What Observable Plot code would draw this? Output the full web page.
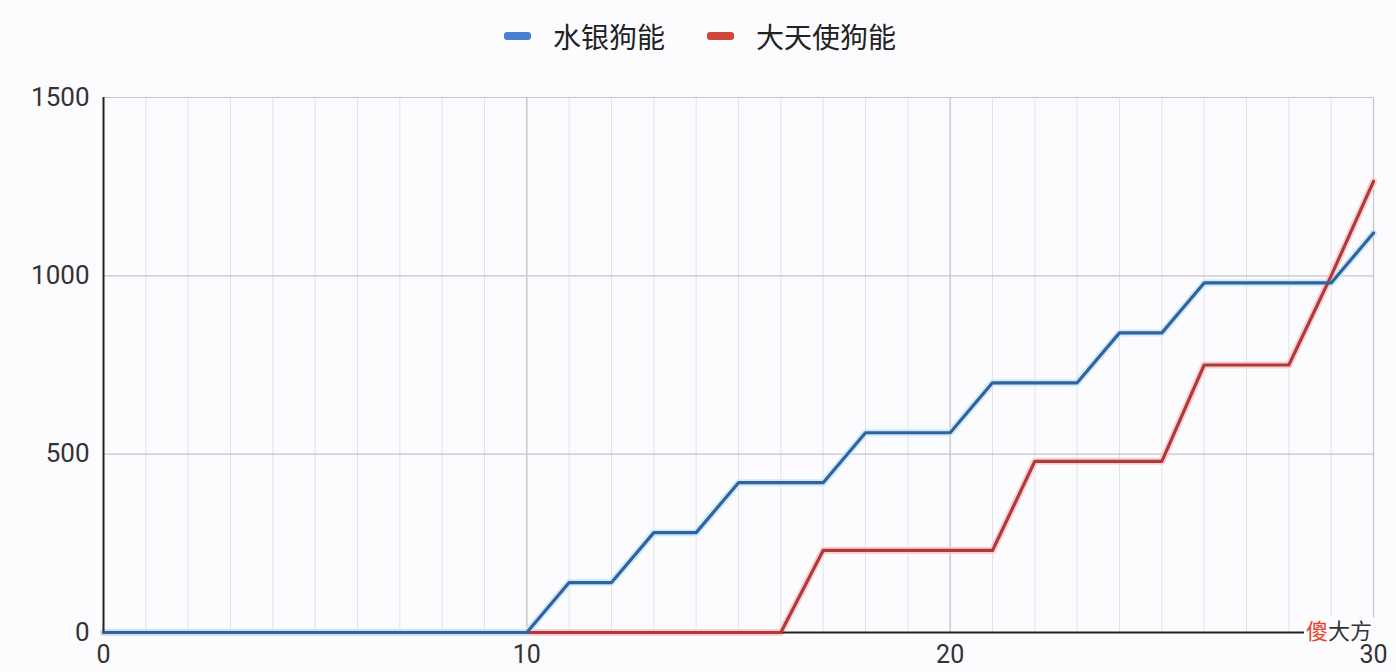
<!DOCTYPE html>
<html>
<head>
<meta charset="utf-8">
<script src="https://cdn.jsdelivr.net/npm/d3@7"></script>
<script src="https://cdn.jsdelivr.net/npm/@observablehq/plot@0.6"></script>
<style>
  html, body { margin: 0; padding: 0; background: #fcfcfe; width: 1396px; height: 672px; overflow: hidden; }
  #wrap { position: relative; width: 1396px; height: 672px; }
  #legend { height: 76px; display: flex; justify-content: center; align-items: center; font-family: "Noto Sans CJK SC", sans-serif; font-size: 28px; color: #222; padding-left: 4px; padding-bottom: 4px; box-sizing: border-box; }
  .item { display: flex; align-items: center; margin: 0 21px; }
  .sw { width: 27px; height: 8px; border-radius: 3px; margin-right: 22px; }
  #wm { position: absolute; left: 1304px; top: 617px; font-family: "Noto Sans CJK SC", sans-serif; font-size: 22px; color: #333; background: #fcfcfe; line-height: 24px; height: 24px; padding: 0 2px; }
  #wm .r { color: #e2462f; }
</style>
</head>
<body>
<div id="wrap">
  <div id="legend"></div>
  <div id="chart"></div>
  <div id="wm"><span class="r">傻</span>大方</div>
</div>
<script>
const seriesNames = ["水银狗能", "大天使狗能"];
const seriesColors = ["#33639a", "#b03a3a"];
const legendColors = ["#4a80d4", "#d2453a"];
const glowColors = ["#bfe6fb", "#f7c4c8"];
const days = d3.range(0, 31);
const mercury = [0,0,0,0,0,0,0,0,0,0,0,140,140,280,280,420,420,420,560,560,560,700,700,700,840,840,980,980,980,980,1120];
const archangel = [0,0,0,0,0,0,0,0,0,0,0,0,0,0,0,0,0,230,230,230,230,230,480,480,480,480,750,750,750,1000,1265];
const xTicks = [0, 10, 20, 30];
const yTicks = [0, 500, 1000, 1500];
const minorX = d3.range(0, 31);

const data = [];
days.forEach((d, i) => {
  data.push({day: d, value: mercury[i], s: seriesNames[0]});
  data.push({day: d, value: archangel[i], s: seriesNames[1]});
});

const legend = document.getElementById("legend");
seriesNames.forEach((n, i) => {
  const it = document.createElement("div");
  it.className = "item";
  it.innerHTML = `<div class="sw" style="background:${legendColors[i]}"></div><span>${n}</span>`;
  legend.appendChild(it);
});

const fmt = d => String(d);

const chart = Plot.plot({
  width: 1396,
  height: 596,
  marginTop: 21,
  marginBottom: 40,
  marginLeft: 103,
  marginRight: 23,
  style: { background: "transparent", fontFamily: "Roboto, sans-serif", fontSize: "26px", color: "#333" },
  x: { domain: [0, 30], ticks: xTicks, tickSize: 0, tickFormat: fmt, label: null },
  y: { domain: [0, 1500], ticks: yTicks, tickSize: 0, tickFormat: fmt, label: null },
  color: { domain: seriesNames, range: seriesColors },
  marks: [
    Plot.ruleX(minorX, { stroke: "#e2e2ea", strokeWidth: 1 }),
    Plot.ruleX(xTicks.slice(1), { stroke: "#c4c4ca", strokeWidth: 1.2 }),
    Plot.ruleY(yTicks.slice(1), { stroke: "#c4c4ca", strokeWidth: 1.2 }),
    Plot.axisX({ ticks: xTicks, tickSize: 0, tickPadding: 13, tickFormat: fmt, fontSize: 25, fill: "#333" }),
    Plot.axisY({ ticks: yTicks, tickSize: 0, tickPadding: 14, tickFormat: fmt, fontSize: 26, fill: "#333" }),
    Plot.line(data.filter(d => d.s === seriesNames[1]), { x: "day", y: "value", stroke: glowColors[1], strokeWidth: 7, strokeOpacity: 0.8 }),
    Plot.line(data.filter(d => d.s === seriesNames[0]), { x: "day", y: "value", stroke: glowColors[0], strokeWidth: 7, strokeOpacity: 0.8 }),
    Plot.ruleX([0], { stroke: "#222", strokeWidth: 2 }),
    Plot.ruleY([0], { stroke: "#222", strokeWidth: 2 }),
    Plot.line(data.filter(d => d.s === seriesNames[1]), { x: "day", y: "value", stroke: "s", strokeWidth: 3.2, strokeLinejoin: "round" }),
    Plot.line(data.filter(d => d.s === seriesNames[0]), { x: "day", y: "value", stroke: "s", strokeWidth: 3.2, strokeLinejoin: "round" })
  ]
});
document.getElementById("chart").appendChild(chart);
</script>
</body>
</html>
